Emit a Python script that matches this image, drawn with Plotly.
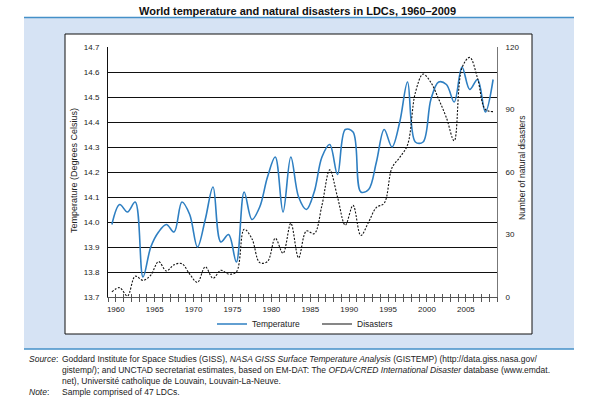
import plotly.graph_objects as go

years = list(range(1960, 2010))
temperature = [13.99, 14.07, 14.04, 14.08, 13.78, 13.90, 13.96, 13.99, 13.96, 14.08,
               14.03, 13.90, 14.01, 14.14, 13.92, 13.95, 13.84, 14.12, 14.01, 14.06,
               14.18, 14.26, 14.04, 14.26, 14.10, 14.05, 14.12, 14.26, 14.31, 14.19,
               14.37, 14.36, 14.12, 14.13, 14.24, 14.37, 14.30, 14.40, 14.56, 14.32,
               14.32, 14.49, 14.56, 14.55, 14.48, 14.62, 14.53, 14.57, 14.44, 14.57]
disasters = [2.5, 4.5, 0.5, 10, 8, 10.5, 17, 12.5, 15.5, 16,
             11, 7, 14.5, 9, 12.8, 11, 12, 32.5, 28, 16.5,
             17, 28.2, 21, 35.4, 18.8, 31.7, 30.4, 44, 61, 48,
             34.5, 44, 29.5, 36, 43, 45, 62, 67, 73, 98,
             107, 103, 95, 86, 75, 110, 115, 105, 90, 89]
label_years = [1960, 1965, 1970, 1975, 1980, 1985, 1990, 1995, 2000, 2005]
temp_ticks = [13.7, 13.8, 13.9, 14.0, 14.1, 14.2, 14.3, 14.4, 14.5, 14.6, 14.7]
dis_ticks = [0, 30, 60, 90, 120]

W, H = 594, 398
L, R, T, B = 108, 97, 47, 101
PW, PH = W - L - R, H - T - B


def px(x):
    return (x - L) / PW


def py(y):
    return (H - B - y) / PH


FONT = "Liberation Sans, Arial, sans-serif"
BLUE = "#2e7fc2"

fig = go.Figure()
fig.add_trace(go.Scatter(x=years, y=temperature, name="Temperature", mode="lines",
                         line=dict(color=BLUE, width=1.6, shape="spline", smoothing=1)))
fig.add_trace(go.Scatter(x=years, y=disasters, name="Disasters", mode="lines", yaxis="y2",
                         showlegend=False,
                         line=dict(color="#111111", width=1.1, dash="2px,1.5px",
                                   shape="spline", smoothing=1)))
fig.add_trace(go.Scatter(x=[None], y=[None], name="Disasters", mode="lines", xaxis="x2",
                         line=dict(color="#111111", width=1.1)))

shapes = [
    dict(type="rect", xref="paper", yref="paper", x0=px(24), x1=px(574), y0=py(349), y1=py(17.5),
         fillcolor="#d6e3f4", line=dict(width=0), layer="below"),
    dict(type="line", xref="paper", yref="paper", x0=px(24), x1=px(574), y0=py(17.5), y1=py(17.5),
         line=dict(color="#4590c8", width=1.5), layer="below"),
    dict(type="line", xref="paper", yref="paper", x0=px(24), x1=px(574), y0=py(349), y1=py(349),
         line=dict(color="#4590c8", width=1.5), layer="below"),
    dict(type="rect", xref="paper", yref="paper", x0=px(65), x1=px(532), y0=py(334), y1=py(34),
         fillcolor="white", line=dict(color="#111111", width=1), layer="below"),
]

annotations = [
    dict(text="<b>World temperature and natural disasters in LDCs, 1960\u20132009</b>",
         x=px(297), y=py(10.5), xref="paper", yref="paper", showarrow=False,
         xanchor="center", yanchor="middle", font=dict(size=11, color="#111", family=FONT)),
    dict(text="Temperature (Degrees Celsius)", textangle=-90, x=px(74), y=py(171),
         xref="paper", yref="paper", showarrow=False, xanchor="center", yanchor="middle",
         font=dict(size=9, color="#222", family=FONT)),
    dict(text="Number of natural disasters", textangle=-90, x=px(522), y=py(168),
         xref="paper", yref="paper", showarrow=False, xanchor="center", yanchor="middle",
         font=dict(size=8.5, color="#222", family=FONT)),
]

notes = [
    (27, 359, "<i>Source</i>:"),
    (60, 359, "Goddard Institute for Space Studies (GISS), <i>NASA GISS Surface Temperature Analysis</i> (GISTEMP) (http://data.giss.nasa.gov/"),
    (60, 370, "gistemp/); and UNCTAD secretariat estimates, based on EM-DAT: The <i>OFDA/CRED International Disaster</i> database (www.emdat."),
    (60, 381, "net), Universit\u00e9 catholique de Louvain, Louvain-La-Neuve."),
    (27, 392, "<i>Note</i>:"),
    (60, 392, "Sample comprised of 47 LDCs."),
]
for x, y, t in notes:
    annotations.append(dict(text=t, x=px(x), y=py(y), xref="paper", yref="paper", showarrow=False,
                            xanchor="left", yanchor="middle",
                            font=dict(size=8.5, color="#222", family=FONT)))

fig.update_layout(
    width=W, height=H,
    margin=dict(l=L, r=R, t=T, b=B, autoexpand=False),
    paper_bgcolor="white", plot_bgcolor="rgba(0,0,0,0)",
    font=dict(family=FONT, size=8, color="#222"),
    shapes=shapes, annotations=annotations,
    xaxis=dict(range=[1959.5, 2009.5], tickmode="array",
               tickvals=[y + 0.5 for y in label_years], ticktext=[str(y) for y in label_years],
               ticks="outside", ticklen=4, tickcolor="#555", tickwidth=1,
               minor=dict(ticks="outside", ticklen=4, tickcolor="#555", dtick=1, tick0=1959.5,
                          showgrid=False),
               showline=True, linecolor="#555", linewidth=1, showgrid=False, zeroline=False,
               tickfont=dict(size=8, color="#222")),
    xaxis2=dict(overlaying="x", anchor="y", range=[1959.5, 2009.5], tickmode="array",
                tickvals=[y + 0.5 for y in label_years], showticklabels=False,
                ticks="inside", ticklen=3, tickcolor="#555", tickwidth=1,
                minor=dict(ticks="inside", ticklen=3, tickcolor="#555", dtick=1, tick0=1959.5,
                           showgrid=False),
                showline=False, showgrid=False, zeroline=False, side="bottom"),
    yaxis=dict(range=[13.7, 14.7], tickmode="array", tickvals=temp_ticks,
               ticktext=[f"{v:.1f}" for v in temp_ticks],
               showgrid=True, gridcolor="#111111", gridwidth=1, showline=True, linecolor="#111111",
               linewidth=1, zeroline=False, ticks="", ticklabelstandoff=6,
               tickfont=dict(size=8, color="#222")),
    yaxis2=dict(range=[0, 120], tickmode="array", tickvals=dis_ticks, overlaying="y", side="right",
                showgrid=False, showline=True, linecolor="#777", linewidth=1, zeroline=False,
                ticks="", ticklabelstandoff=6, tickfont=dict(size=8, color="#222")),
    legend=dict(orientation="h", x=px(212), y=py(324), xanchor="left", yanchor="middle",
                bgcolor="rgba(0,0,0,0)", font=dict(size=8.5, color="#222", family=FONT),
                entrywidth=60, entrywidthmode="pixels", traceorder="normal"),
)

fig.write_html("out.html", config={"displayModeBar": False},
               post_script="document.body.style.margin='0';document.body.style.padding='0';")
